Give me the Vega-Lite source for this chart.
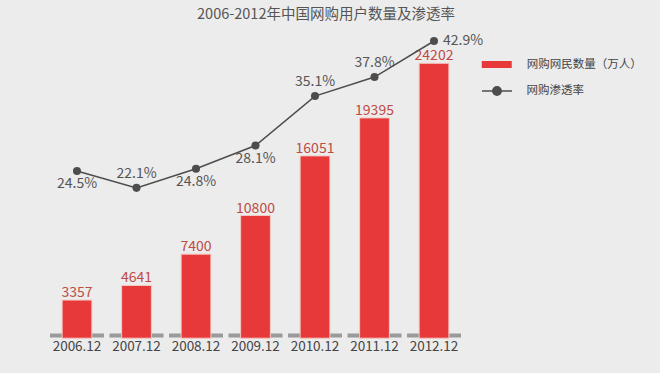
{
  "$schema": "https://vega.github.io/schema/vega-lite/v6.json",
  "autosize": {"type": "none"},
  "width": 416.5,
  "height": 300,
  "padding": {"left": 47.25, "top": 30, "right": 196.25, "bottom": 43},
  "background": "#ececec",
  "config": {
    "view": {"stroke": null},
    "font": "Noto Sans CJK SC"
  },
  "title": {
    "text": "2006-2012年中国网购用户数量及渗透率",
    "anchor": "middle",
    "frame": "group",
    "dx": 70.5,
    "offset": 8,
    "fontSize": 14.5,
    "font": "Noto Sans CJK SC",
    "fontWeight": "normal",
    "color": "#555555"
  },
  "data": {
    "values": [
      {"year": "2006.12", "users": 3357, "rate": 0.245},
      {"year": "2007.12", "users": 4641, "rate": 0.221},
      {"year": "2008.12", "users": 7400, "rate": 0.248},
      {"year": "2009.12", "users": 10800, "rate": 0.281},
      {"year": "2010.12", "users": 16051, "rate": 0.351},
      {"year": "2011.12", "users": 19395, "rate": 0.378},
      {"year": "2012.12", "users": 24202, "rate": 0.429}
    ]
  },
  "encoding": {
    "x": {
      "field": "year",
      "type": "ordinal",
      "scale": {"paddingInner": 0.5, "paddingOuter": 0.25},
      "axis": {
        "title": null,
        "domain": false,
        "ticks": false,
        "grid": false,
        "labelAngle": 0,
        "labelPadding": 9,
        "labelFontSize": 13.5,
        "labelColor": "#444444",
        "labelFont": "Noto Sans CJK SC"
      }
    }
  },
  "layer": [
    {
      "encoding": {
        "y": {
          "field": "users",
          "type": "quantitative",
          "scale": {"domain": [721, 27134], "zero": false, "nice": false},
          "axis": null
        }
      },
      "layer": [
        {
          "mark": {"type": "tick", "orient": "horizontal", "color": "#9a9a9a", "size": 54, "thickness": 4, "opacity": 1, "clip": false},
          "encoding": {
            "y": {"datum": 230, "type": "quantitative"}
          }
        },
        {
          "mark": {"type": "bar", "stroke": "#f5c9c2", "strokeWidth": 1},
          "encoding": {
            "fill": {
              "datum": "网购网民数量（万人）",
              "type": "nominal",
              "scale": {"range": ["#e8393a"]},
              "legend": {
                "orient": "none",
                "legendX": 439.5,
                "legendY": 24.5,
                "title": null,
                "padding": 0,
                "labelFont": "Noto Sans CJK SC",
                "labelFontSize": 11.5,
                "labelColor": "#444444",
                "labelOffset": 20,
                "symbolType": "M-1.5,-0.35H1.5V0.35H-1.5Z",
                "symbolSize": 400,
                "symbolStrokeWidth": 0,
                "symbolOpacity": 1
              }
            }
          }
        },
        {
          "mark": {"type": "text", "baseline": "alphabetic", "dy": -3, "fontSize": 14, "color": "#bf4b44", "font": "Noto Sans CJK SC"},
          "encoding": {
            "text": {"field": "users", "type": "quantitative", "format": "d"}
          }
        }
      ]
    },
    {
      "encoding": {
        "y": {
          "field": "rate",
          "type": "quantitative",
          "scale": {"domain": [0.0197, 0.4446], "zero": false, "nice": false},
          "axis": null
        }
      },
      "layer": [
        {
          "mark": {"type": "line", "strokeWidth": 1.5},
          "encoding": {
            "stroke": {
              "datum": "网购渗透率",
              "type": "nominal",
              "scale": {"range": ["#4d4d4d"]},
              "legend": {
                "orient": "none",
                "legendX": 438.75,
                "legendY": 50,
                "title": null,
                "padding": 0,
                "labelFont": "Noto Sans CJK SC",
                "labelFontSize": 11.5,
                "labelColor": "#444444",
                "labelOffset": 18.5,
                "symbolType": "M-1.5,0H1.5M-0.42,0A0.42,0.42 0 1,1 0.42,0A0.42,0.42 0 1,1 -0.42,0Z",
                "symbolSize": 400,
                "symbolStrokeWidth": 1.5,
                "symbolFillColor": "#4d4d4d",
                "symbolStrokeColor": "#4d4d4d",
                "symbolOpacity": 1
              }
            }
          }
        },
        {
          "mark": {"type": "point", "filled": true, "size": 65, "opacity": 1, "color": "#4d4d4d"}
        },
        {
          "transform": [{"filter": {"field": "year", "oneOf": ["2006.12", "2008.12", "2009.12"]}}],
          "mark": {"type": "text", "baseline": "middle", "dy": 13.5, "fontSize": 14, "color": "#555555", "font": "Noto Sans CJK SC"},
          "encoding": {"text": {"field": "rate", "type": "quantitative", "format": ".1%"}}
        },
        {
          "transform": [{"filter": {"field": "year", "oneOf": ["2007.12", "2010.12", "2011.12"]}}],
          "mark": {"type": "text", "baseline": "middle", "dy": -14, "fontSize": 14, "color": "#555555", "font": "Noto Sans CJK SC"},
          "encoding": {"text": {"field": "rate", "type": "quantitative", "format": ".1%"}}
        },
        {
          "transform": [{"filter": {"field": "year", "equal": "2012.12"}}],
          "mark": {"type": "text", "baseline": "middle", "align": "left", "dx": 9, "fontSize": 14, "color": "#555555", "font": "Noto Sans CJK SC"},
          "encoding": {"text": {"field": "rate", "type": "quantitative", "format": ".1%"}}
        }
      ]
    }
  ],
  "resolve": {"scale": {"y": "independent"}}
}
